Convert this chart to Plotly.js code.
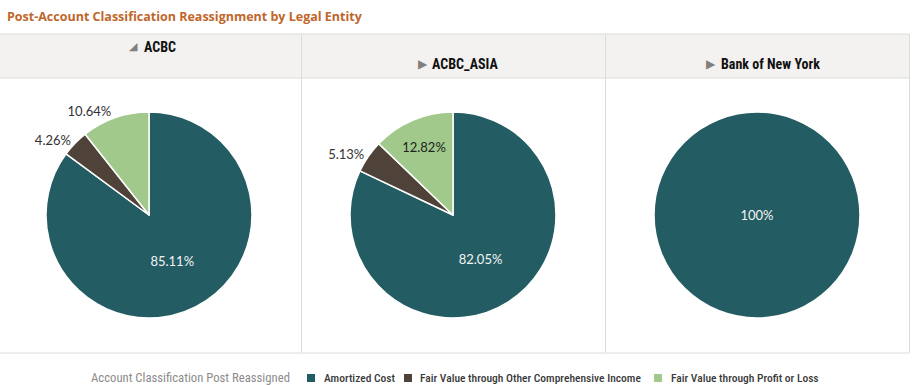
<!DOCTYPE html>
<html><head><meta charset="utf-8">
<script src="https://cdn.plot.ly/plotly-3.0.1.min.js"></script>
<style>html,body{margin:0;padding:0;background:#fff}#chart{width:913px;height:385px}</style>
</head><body><div id="chart"></div>
<script>
// ---- data ----
const categories = ['Amortized Cost', 'Fair Value through Other Comprehensive Income', 'Fair Value through Profit or Loss'];
const entities = ['ACBC', 'ACBC_ASIA', 'Bank of New York'];
const acbcValues = [85.11, 4.26, 10.64];
const acbcAsiaValues = [82.05, 5.13, 12.82];
const bnyValues = [100, 0, 0];
const legendTitle = 'Account Classification Post Reassigned';
const chartTitle = 'Post-Account Classification Reassignment by Legal Entity';

// ---- style ----
const colors = ['#235c63', '#4f4238', '#a0c98b'];
const W = 913, H = 385;
const px = x => x / W, py = y => 1 - y / H;
const panelCenters = [149, 453, 757];
const R = 103, CY = 215;
const COND = '"Roboto Condensed", Roboto, sans-serif';

function pieTrace(values, i, textpos, textcolors) {
  const labs = [], vals = [], cols = [], pos = [], tcol = [];
  values.forEach((v, k) => { if (v > 0) { labs.push(categories[k]); vals.push(v); cols.push(colors[k]); pos.push(textpos[k]); tcol.push(textcolors[k]); } });
  return {
    type: 'pie', labels: labs, values: vals, sort: false, direction: 'clockwise', rotation: 0,
    marker: { colors: cols, line: { color: '#ffffff', width: 1.5 } },
    texttemplate: '%{value}%', textinfo: 'text', textposition: pos,
    textfont: { family: 'Lato, sans-serif', size: 13, color: tcol },
    insidetextorientation: 'horizontal', showlegend: false, hoverinfo: 'label+value',
    domain: { x: [px(panelCenters[i] - R), px(panelCenters[i] + R)], y: [py(CY + R), py(CY - R)] }
  };
}

const data = [
  pieTrace(acbcValues, 0, ['inside', 'outside', 'outside'], ['#f4f4f4', '#333333', '#333333']),
  pieTrace(acbcAsiaValues, 1, ['inside', 'outside', 'inside'], ['#f4f4f4', '#333333', '#222222']),
  pieTrace(bnyValues, 2, ['inside', 'outside', 'outside'], ['#f4f4f4', '#333333', '#333333'])
];

const line = '#dcdcdc';
const shapes = [
  { type: 'rect', xref: 'paper', yref: 'paper', x0: 0, x1: px(909), y0: py(78), y1: py(34), fillcolor: '#f3f2f0', line: { width: 0 }, layer: 'below' },
  { type: 'line', xref: 'paper', yref: 'paper', x0: 0, x1: px(909), y0: py(34), y1: py(34), line: { color: line, width: 1 } },
  { type: 'line', xref: 'paper', yref: 'paper', x0: 0, x1: px(909), y0: py(78), y1: py(78), line: { color: line, width: 1 } },
  { type: 'line', xref: 'paper', yref: 'paper', x0: 0, x1: px(909), y0: py(353), y1: py(353), line: { color: line, width: 1 } },
  { type: 'line', xref: 'paper', yref: 'paper', x0: px(301.5), x1: px(301.5), y0: py(353), y1: py(34), line: { color: line, width: 1 } },
  { type: 'line', xref: 'paper', yref: 'paper', x0: px(605.5), x1: px(605.5), y0: py(353), y1: py(34), line: { color: line, width: 1 } },
  { type: 'line', xref: 'paper', yref: 'paper', x0: px(909.5), x1: px(909.5), y0: py(353), y1: py(34), line: { color: line, width: 1 } }
];

const hdrFont = { family: COND, size: 14, color: '#111', weight: 'bold' };
const triFont = { family: 'DejaVu Sans, sans-serif', size: 12, color: '#808080' };
const ann = (text, x, y, font, anchor) => ({ text, xref: 'paper', yref: 'paper', x: px(x), y: py(y), xanchor: anchor || 'left', yanchor: 'middle', showarrow: false, font });

const annotations = [
  ann(chartTitle, 5, 16, { family: '"Open Sans", sans-serif', size: 12.5, color: '#c0662b', weight: 'bold' }),
  ann('◢', 127, 46.5, { ...triFont, size: 11 }),
  ann(entities[0], 142, 47, hdrFont),
  ann('▶', 416, 64, triFont),
  ann(entities[1], 430, 64, hdrFont),
  ann('▶', 704, 64, triFont),
  ann(entities[2], 719, 64, hdrFont)
];

// custom legend
const legTextFont = { family: COND, size: 11.5, color: '#3a3a3a', weight: 500 };
annotations.push(ann(legendTitle, 292, 377.5, { family: COND, size: 12.7, color: '#8c8c8c' }, 'right'));
const legSquares = [307, 404, 654];
const legTexts = [322, 418, 669];
categories.forEach((c, k) => {
  shapes.push({ type: 'rect', xref: 'paper', yref: 'paper', x0: px(legSquares[k]), x1: px(legSquares[k] + 8), y0: py(382), y1: py(374), fillcolor: colors[k], line: { width: 0 } });
  annotations.push(ann(c, legTexts[k], 377.5, legTextFont));
});

const layout = {
  width: W, height: H, margin: { l: 0, r: 0, t: 0, b: 0 },
  paper_bgcolor: '#fff', plot_bgcolor: '#fff',
  shapes, annotations, showlegend: false
};

Plotly.newPlot('chart', data, layout, { displayModeBar: false, staticPlot: true });
</script></body></html>
